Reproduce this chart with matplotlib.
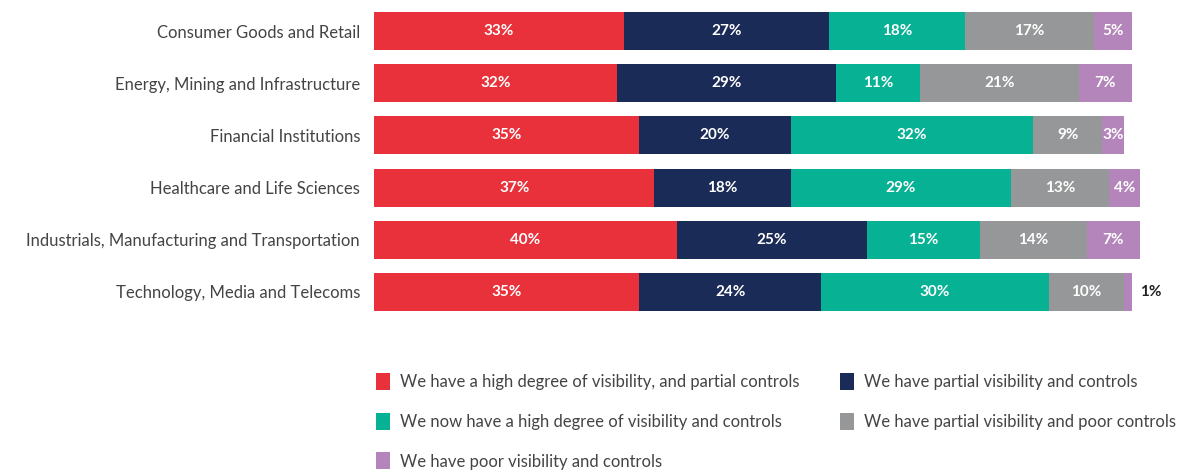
import matplotlib
matplotlib.use("Agg")
import matplotlib.pyplot as plt
import numpy as np

plt.rcParams["font.family"] = ["Lato", "DejaVu Sans"]

sectors = [
    "Consumer Goods and Retail",
    "Energy, Mining and Infrastructure",
    "Financial Institutions",
    "Healthcare and Life Sciences",
    "Industrials, Manufacturing and Transportation",
    "Technology, Media and Telecoms",
]
series_names = [
    "We have a high degree of visibility, and partial controls",
    "We have partial visibility and controls",
    "We now have a high degree of visibility and controls",
    "We have partial visibility and poor controls",
    "We have poor visibility and controls",
]
high_vis_partial = [33, 32, 35, 37, 40, 35]
partial_vis = [27, 29, 20, 18, 25, 24]
high_vis_controls = [18, 11, 32, 29, 15, 30]
partial_vis_poor = [17, 21, 9, 13, 14, 10]
poor_vis = [5, 7, 3, 4, 7, 1]

colors = ["#E8313A", "#1B2B57", "#07B194", "#969798", "#B385BA"]

values = [high_vis_partial, partial_vis, high_vis_controls, partial_vis_poor, poor_vis]

fig = plt.figure(figsize=(11.87, 4.73), dpi=100)
# 100% spans 758 px; leave room for rows that sum to 101%
ax = fig.add_axes([374 / 1187, (473 - 318) / 473, 758 * 1.02 / 1187, 313 / 473])

y = np.arange(len(sectors))
left = np.zeros(len(sectors))
handles = []
for vals, col, name in zip(values, colors, series_names):
    vals = np.array(vals, dtype=float)
    bars = ax.barh(y, vals, left=left, height=0.73, color=col, label=name)
    handles.append(bars)
    for yi, (l, v) in enumerate(zip(left, vals)):
        if v >= 2:
            ax.text(l + v / 2, yi, f"{int(v)}%", ha="center", va="center",
                    color="white", fontsize=11, fontweight="bold")
        else:
            ax.text(l + v + 1.0, yi, f"{int(v)}%", ha="left", va="center",
                    color="#222222", fontsize=11, fontweight="bold", clip_on=False)
    left += vals

ax.set_xlim(0, 102)
ax.set_ylim(len(sectors) - 0.5, -0.5)
ax.set_yticks(y)
ax.set_yticklabels(sectors, fontsize=12, color="#444444")
ax.tick_params(axis="y", length=0, pad=10)
ax.set_xticks([])
for s in ax.spines.values():
    s.set_visible(False)

order = [0, 2, 4, 1, 3]
fig.legend([handles[i] for i in order], [series_names[i] for i in order],
           ncol=2, loc="upper left", bbox_to_anchor=(361 / 1187, 1 - 358 / 473),
           frameon=False, fontsize=12, handlelength=0.85, handleheight=1.2,
           handletextpad=0.6, labelspacing=1.35, columnspacing=2.4,
           labelcolor="#444444")

fig.savefig("out.png", dpi=100)
